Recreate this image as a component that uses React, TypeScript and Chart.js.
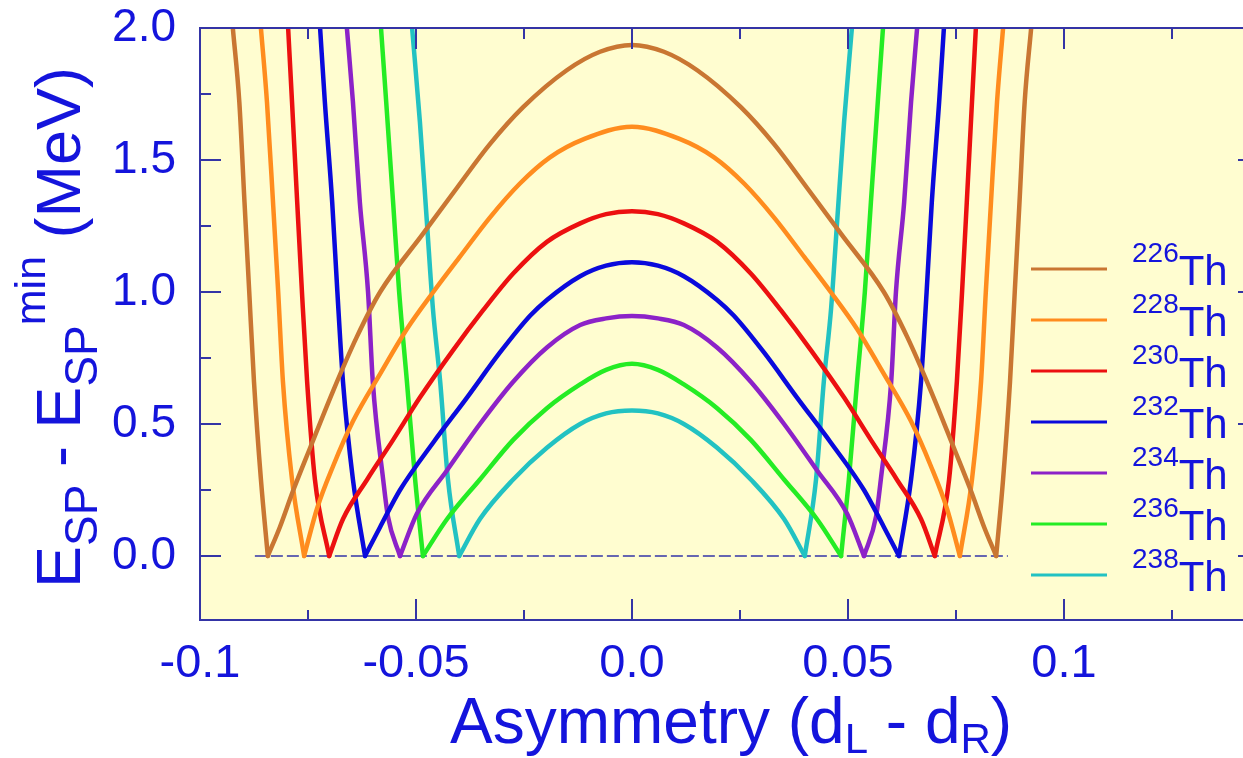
import { useEffect, useRef } from "react";
import { Chart, registerables } from "chart.js";

Chart.register(...registerables);

const FONT = '"Liberation Sans", Arial, Helvetica, sans-serif';
const TEXT = "#1414dc";
const AXIS = "#3434a6";
const BG = "#FFFDD0";

const X_TICKS = [-0.1, -0.05, 0, 0.05, 0.1];
const X_TICK_LABELS = ["-0.1", "-0.05", "0.0", "0.05", "0.1"];
const X_MINOR = [-0.075, -0.025, 0.025, 0.075, 0.125];
const Y_TICKS = [0, 0.5, 1.0, 1.5, 2.0];
const Y_TICK_LABELS = ["0.0", "0.5", "1.0", "1.5", "2.0"];
const Y_MINOR = [0.25, 0.75, 1.25, 1.75];

const ISOTOPES = ["226", "228", "230", "232", "234", "236", "238"];
const COLORS = ["#c97632", "#ff8c1e", "#ec1010", "#0a0adc", "#8c22c8", "#24ec24", "#22c2c2"];

const TH226_X = [-0.0924, -0.0909, -0.0897, -0.0886, -0.0875, -0.0859, -0.0843, -0.0815, -0.0785, -0.0745, -0.0692, -0.0637, -0.0583, -0.0484, -0.0405, -0.0329, -0.0252, -0.0151, -0.0074, 0, 0.0074, 0.0151, 0.0252, 0.0329, 0.0405, 0.0484, 0.0583, 0.0637, 0.0692, 0.0745, 0.0785, 0.0815, 0.0843, 0.0859, 0.0875, 0.0886, 0.0897, 0.0909, 0.0924];
const TH226_Y = [2.0, 1.72, 1.34, 1.0, 0.66, 0.29, 0, 0.11, 0.245, 0.41, 0.625, 0.83, 1.0, 1.22, 1.395, 1.56, 1.70, 1.84, 1.91, 1.936, 1.91, 1.84, 1.70, 1.56, 1.395, 1.22, 1.0, 0.83, 0.625, 0.41, 0.245, 0.11, 0, 0.29, 0.66, 1.0, 1.34, 1.72, 2.0];

const TH228_X = [-0.0859, -0.0845, -0.0831, -0.0819, -0.0808, -0.0787, -0.0759, -0.0729, -0.0692, -0.0646, -0.0583, -0.0521, -0.046, -0.04, -0.033, -0.026, -0.019, -0.011, 0, 0.011, 0.019, 0.026, 0.033, 0.04, 0.046, 0.0521, 0.0583, 0.0646, 0.0692, 0.0729, 0.0759, 0.0787, 0.0808, 0.0819, 0.0831, 0.0845, 0.0859];
const TH228_Y = [2.0, 1.72, 1.34, 1.0, 0.66, 0.29, 0, 0.18, 0.34, 0.51, 0.69, 0.86, 1.0, 1.13, 1.28, 1.41, 1.51, 1.58, 1.626, 1.58, 1.51, 1.41, 1.28, 1.13, 1.0, 0.86, 0.69, 0.51, 0.34, 0.18, 0, 0.29, 0.66, 1.0, 1.34, 1.72, 2.0];

const TH230_X = [-0.0796, -0.0787, -0.0775, -0.0764, -0.0752, -0.0734, -0.0701, -0.0669, -0.0613, -0.0553, -0.0491, -0.0414, -0.0345, -0.0275, -0.0197, -0.012, -0.006, 0, 0.006, 0.012, 0.0197, 0.0275, 0.0345, 0.0414, 0.0491, 0.0553, 0.0613, 0.0669, 0.0701, 0.0734, 0.0752, 0.0764, 0.0775, 0.0787, 0.0796];
const TH230_Y = [2.0, 1.72, 1.34, 1.0, 0.66, 0.29, 0, 0.14, 0.29, 0.44, 0.60, 0.78, 0.93, 1.07, 1.19, 1.26, 1.295, 1.306, 1.295, 1.26, 1.19, 1.07, 0.93, 0.78, 0.60, 0.44, 0.29, 0.14, 0, 0.29, 0.66, 1.0, 1.34, 1.72, 2.0];

const TH232_X = [-0.0722, -0.0711, -0.0694, -0.0682, -0.0669, -0.0646, -0.0618, -0.0583, -0.0537, -0.046, -0.0382, -0.0306, -0.0236, -0.0197, -0.012, -0.006, 0, 0.006, 0.012, 0.0197, 0.0236, 0.0306, 0.0382, 0.046, 0.0537, 0.0583, 0.0618, 0.0646, 0.0669, 0.0682, 0.0694, 0.0711, 0.0722];
const TH232_Y = [2.0, 1.72, 1.34, 1.0, 0.66, 0.29, 0, 0.11, 0.25, 0.43, 0.60, 0.77, 0.91, 0.97, 1.06, 1.10, 1.113, 1.10, 1.06, 0.97, 0.91, 0.77, 0.60, 0.43, 0.25, 0.11, 0, 0.29, 0.66, 1.0, 1.34, 1.72, 2.0];

const TH234_X = [-0.066, -0.0646, -0.063, -0.0611, -0.06, -0.0576, -0.0565, -0.0537, -0.0498, -0.0428, -0.0352, -0.0275, -0.0197, -0.012, -0.006, 0, 0.006, 0.012, 0.0197, 0.0275, 0.0352, 0.0428, 0.0498, 0.0537, 0.0565, 0.0576, 0.06, 0.0611, 0.063, 0.0646, 0.066];
const TH234_Y = [2.0, 1.72, 1.34, 1.0, 0.66, 0.29, 0.15, 0, 0.16, 0.325, 0.50, 0.66, 0.79, 0.875, 0.90, 0.909, 0.90, 0.875, 0.79, 0.66, 0.50, 0.325, 0.16, 0, 0.15, 0.29, 0.66, 1.0, 1.34, 1.72, 2.0];

const TH236_X = [-0.0581, -0.0569, -0.0553, -0.0539, -0.0521, -0.0502, -0.0484, -0.0428, -0.0352, -0.0275, -0.0197, -0.012, -0.006, 0, 0.006, 0.012, 0.0197, 0.0275, 0.0352, 0.0428, 0.0484, 0.0502, 0.0521, 0.0539, 0.0553, 0.0569, 0.0581];
const TH236_Y = [2.0, 1.72, 1.34, 1.0, 0.66, 0.29, 0, 0.14, 0.29, 0.44, 0.56, 0.65, 0.705, 0.728, 0.705, 0.65, 0.56, 0.44, 0.29, 0.14, 0, 0.29, 0.66, 1.0, 1.34, 1.72, 2.0];

const TH238_X = [-0.0509, -0.0491, -0.0475, -0.0461, -0.0444, -0.0426, -0.04, -0.0352, -0.0275, -0.0197, -0.012, -0.006, 0, 0.006, 0.012, 0.0197, 0.0275, 0.0352, 0.04, 0.0426, 0.0444, 0.0461, 0.0475, 0.0491, 0.0509];
const TH238_Y = [2.0, 1.645, 1.27, 0.94, 0.66, 0.29, 0, 0.14, 0.29, 0.41, 0.50, 0.54, 0.551, 0.54, 0.50, 0.41, 0.29, 0.14, 0, 0.29, 0.66, 0.94, 1.27, 1.645, 2.0];

const BASE_X = [-0.0873, 0.087];
const BASE_Y = [0, 0];

const SERIES_X = [TH226_X, TH228_X, TH230_X, TH232_X, TH234_X, TH236_X, TH238_X];
const SERIES_Y = [TH226_Y, TH228_Y, TH230_Y, TH232_Y, TH234_Y, TH236_Y, TH238_Y];

const f = (size: number) => `${size}px ${FONT}`;

const decor = {
  id: "decor",
  beforeDraw(chart: any) {
    const { ctx, chartArea: a } = chart;
    ctx.save();
    ctx.fillStyle = "#ffffff";
    ctx.fillRect(0, 0, chart.width, chart.height);
    ctx.fillStyle = BG;
    ctx.fillRect(a.left, a.top, a.right - a.left, a.bottom - a.top);
    ctx.restore();
  },
  afterDraw(chart: any) {
    const { ctx, chartArea: a } = chart;
    const xs = chart.scales.x;
    const ys = chart.scales.y;
    ctx.save();
    ctx.strokeStyle = AXIS;
    ctx.lineWidth = 2;
    ctx.strokeRect(a.left, a.top, a.right - a.left, a.bottom - a.top);
    const tick = (px: number, py: number, dx: number, dy: number) => {
      ctx.beginPath();
      ctx.moveTo(px, py);
      ctx.lineTo(px + dx, py + dy);
      ctx.stroke();
    };
    X_TICKS.forEach((v) => {
      const p = xs.getPixelForValue(v);
      tick(p, a.bottom, 0, -21);
      tick(p, a.top, 0, 21);
    });
    X_MINOR.forEach((v) => {
      const p = xs.getPixelForValue(v);
      tick(p, a.bottom, 0, -10);
      tick(p, a.top, 0, 11);
    });
    Y_TICKS.forEach((v) => {
      const p = ys.getPixelForValue(v);
      tick(a.left, p, 21, 0);
      tick(a.right, p, -21, 0);
    });
    Y_MINOR.forEach((v) => {
      const p = ys.getPixelForValue(v);
      tick(a.left, p, 11, 0);
      tick(a.right, p, -11, 0);
    });

    // legend
    ctx.textBaseline = "alphabetic";
    ctx.textAlign = "left";
    ISOTOPES.forEach((iso, i) => {
      const ly = 269 + i * 51;
      ctx.strokeStyle = COLORS[i];
      ctx.lineWidth = 3;
      ctx.beginPath();
      ctx.moveTo(1031, ly);
      ctx.lineTo(1107, ly);
      ctx.stroke();
      ctx.fillStyle = TEXT;
      ctx.font = f(28);
      ctx.fillText(iso, 1132, ly - 7);
      const w = ctx.measureText(iso).width;
      ctx.font = f(42);
      ctx.fillText("Th", 1132 + w, ly + 16);
    });

    // x title
    ctx.fillStyle = TEXT;
    const pieces = (items: [string, number, number][], startX: number) => {
      let cx = startX;
      items.forEach(([t, size, dy]) => {
        ctx.font = f(size);
        ctx.fillText(t, cx, dy);
        cx += ctx.measureText(t).width;
      });
    };
    pieces(
      [
        ["Asymmetry (d", 64, 743],
        ["L", 42, 753],
        [" - d", 64, 743],
        ["R", 42, 753],
        [")", 64, 743],
      ],
      450
    );

    // y title (rotated)
    ctx.save();
    ctx.translate(80, 588);
    ctx.rotate(-Math.PI / 2);
    pieces(
      [
        ["E", 63, 0],
        ["SP", 46, 17],
        [" - E", 63, 0],
        ["SP", 46, 17],
        ["min", 43, -35],
        [" (MeV)", 63, 0],
      ],
      0
    );
    ctx.restore();
    ctx.restore();
  },
};

export default function App() {
  const ref = useRef<HTMLCanvasElement>(null);
  useEffect(() => {
    const datasets: any[] = [];
    SERIES_X.forEach((xsArr, i) => {
      const ysArr = SERIES_Y[i];
      const pts = xsArr.map((xv, j) => ({ x: xv, y: ysArr[j] }));
      // split the curve at its two minima (y = 0) so the V tips stay sharp
      const cuts: number[] = [];
      ysArr.forEach((v, j) => {
        if (v === 0) cuts.push(j);
      });
      const bounds = [0, ...cuts, pts.length - 1];
      for (let k = 0; k < bounds.length - 1; k++) {
        datasets.push({
          label: ISOTOPES[i] + "Th",
          data: pts.slice(bounds[k], bounds[k + 1] + 1),
          borderColor: COLORS[i],
          backgroundColor: COLORS[i],
          borderWidth: 4.5,
          borderJoinStyle: "round",
          borderCapStyle: "round",
          pointRadius: 0,
          cubicInterpolationMode: "monotone",
          fill: false,
          clip: 0,
        });
      }
    });
    datasets.push({
      label: "baseline",
      data: BASE_X.map((xv, j) => ({ x: xv, y: BASE_Y[j] })),
      borderColor: AXIS,
      borderWidth: 1.5,
      borderDash: [12, 4],
      pointRadius: 0,
      fill: false,
      clip: 0,
    });
    const chart = new Chart(ref.current as HTMLCanvasElement, {
      type: "line",
      data: { datasets },
      options: {
        animation: false,
        responsive: false,
        devicePixelRatio: 1,
        events: [],
        layout: { padding: { left: 0, top: 28, right: 21, bottom: 0 } },
        plugins: { legend: { display: false }, tooltip: { enabled: false } },
        scales: {
          x: {
            type: "linear",
            min: -0.1,
            max: 0.14514,
            afterBuildTicks: (s: any) => {
              s.ticks = X_TICKS.map((v) => ({ value: v }));
            },
            afterFit: (s: any) => {
              s.height = 138;
            },
            grid: { display: false, drawTicks: false },
            border: { display: false },
            ticks: {
              callback: (_v: any, i: number) => X_TICK_LABELS[i],
              font: { family: FONT, size: 47, lineHeight: 1 },
              color: TEXT,
              padding: 21,
              maxRotation: 0,
              minRotation: 0,
              autoSkip: false,
            },
          },
          y: {
            type: "linear",
            min: -0.2424,
            max: 2.0,
            afterBuildTicks: (s: any) => {
              s.ticks = Y_TICKS.map((v) => ({ value: v }));
            },
            afterFit: (s: any) => {
              s.width = 200;
              s.paddingTop = 0;
              s.paddingBottom = 0;
            },
            grid: { display: false, drawTicks: false },
            border: { display: false },
            ticks: {
              callback: (_v: any, i: number) => Y_TICK_LABELS[i],
              font: { family: FONT, size: 46, lineHeight: 1 },
              color: TEXT,
              padding: 24,
              autoSkip: false,
            },
          },
        },
      } as any,
      plugins: [decor],
    });
    return () => chart.destroy();
  }, []);
  return (
    <div
      style={{
        position: "fixed",
        left: 0,
        top: 0,
        width: 1243,
        height: 758,
        overflow: "hidden",
        background: "#ffffff",
      }}
    >
      <canvas ref={ref} width={1280} height={758} style={{ display: "block", width: 1280, height: 758 }} />
    </div>
  );
}
